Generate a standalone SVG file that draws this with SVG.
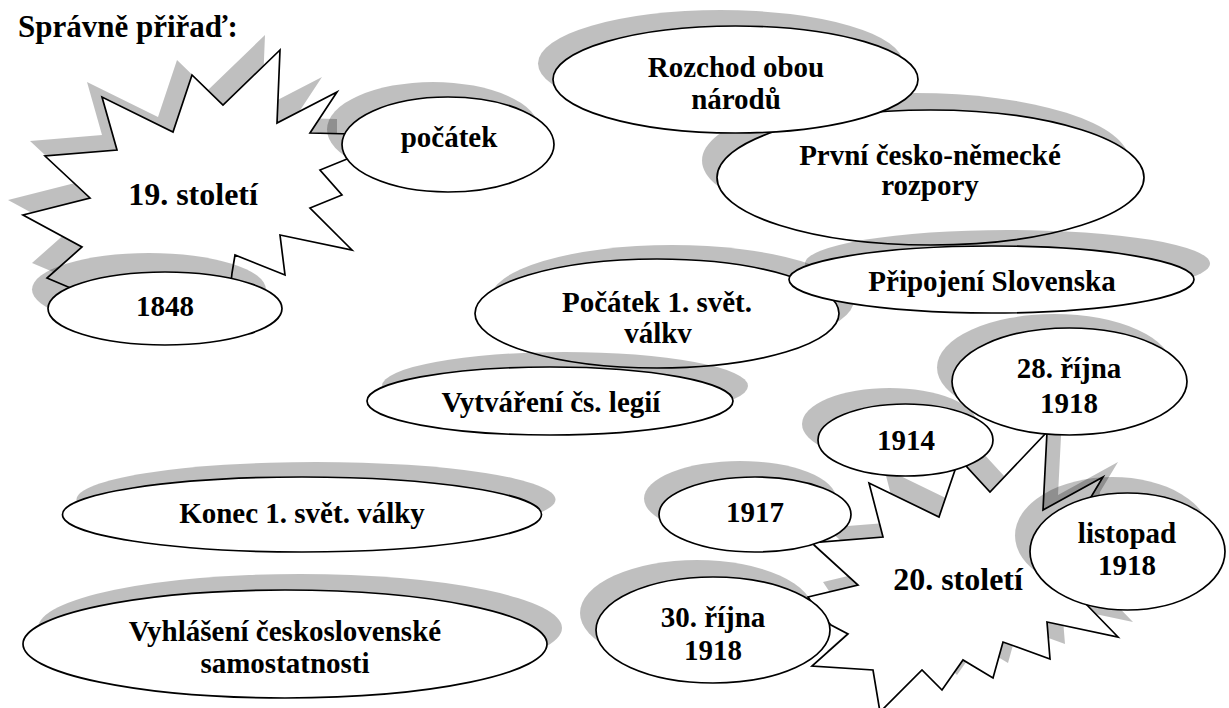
<svg xmlns="http://www.w3.org/2000/svg" xmlns:xlink="http://www.w3.org/1999/xlink" width="1229" height="708" viewBox="0 0 1229 708" font-family="Liberation Serif, Times New Roman, serif">
<defs>
<style>
.sh{fill:#000;fill-opacity:0.25;stroke:none}
.nd{fill:#fff;stroke:#000;stroke-width:1.7;stroke-linejoin:miter}
text{font-family:'Liberation Serif','Times New Roman',Times,serif;font-weight:bold;fill:#000;text-anchor:middle}
.l{font-size:29px}
.b{font-size:32px}
.t{font-size:31px;text-anchor:start}
</style>
<polygon id="p19" points="280,50 277,123 337,92 310,133 352,134 352,157 320,170 342,195 310,208 352,250 280,235 285,275 235,255 232,273 230,292 80,292 47,278 82,247 23,215 90,198 45,156 117,150 102,97 173,132 192,75 223,105"/>
<polygon id="p20" points="955,470 960,445 967,467 990,492 1047,432 1043,510 1103,477 1085,507 1075,590 1085,603 1118,637 1047,622 1050,659 1003,642 993,678 963,660 942,690 922,670 880,712 873,670 812,666 848,634 831,625 820,615 808,597 858,585 814,545 812,530 820,542 883,537 869,483 939,517"/>
</defs>
<rect width="1229" height="708" fill="#fff"/>
<text class="t" x="18" y="37">Správně přiřaď:</text>

<g id="connectors"></g>

<g id="n-19stoleti">
<use xlink:href="#p19" href="#p19" class="sh" transform="translate(-15,-15)"/>
<use xlink:href="#p19" href="#p19" class="nd"/>
<text class="b" x="193" y="205">19. století</text>
</g>
<g id="n-pocatek">
<ellipse class="sh" cx="433" cy="129.5" rx="106" ry="47.5"/>
<ellipse class="nd" cx="448" cy="144.5" rx="106" ry="47.5"/>
<text class="l" x="449" y="147">počátek</text>
</g>
<g id="n-1848">
<ellipse class="sh" cx="149" cy="289.5" rx="117" ry="36.5"/>
<ellipse class="nd" cx="165" cy="308.5" rx="117" ry="36.5"/>
<text class="l" x="165" y="316">1848</text>
</g>
<g id="n-prvni">
<ellipse class="sh" cx="915.5" cy="160.5" rx="213.5" ry="67.5"/>
<ellipse class="nd" cx="930.5" cy="177.5" rx="213.5" ry="67.5"/>
<text class="l" x="930" y="165">První česko-německé</text>
<text class="l" x="930" y="195">rozpory</text>
</g>
<g id="n-rozchod">
<ellipse class="sh" cx="720.5" cy="63.5" rx="182.5" ry="53.5"/>
<ellipse class="nd" cx="735.5" cy="79.5" rx="182.5" ry="53.5"/>
<text class="l" x="736" y="77">Rozchod obou</text>
<text class="l" x="736" y="109">národů</text>
</g>
<g id="n-pocatek-valky">
<ellipse class="sh" cx="672" cy="299.5" rx="182" ry="54.5"/>
<ellipse class="nd" cx="657" cy="313.5" rx="182" ry="54.5"/>
<text class="l" x="657" y="312">Počátek 1. svět.</text>
<text class="l" x="658" y="343">válkv</text>
</g>
<g id="n-pripojeni">
<ellipse class="sh" cx="1007.5" cy="263.5" rx="202.5" ry="33.5"/>
<ellipse class="nd" cx="991.5" cy="279.5" rx="202.5" ry="33.5"/>
<text class="l" x="992" y="291">Připojení Slovenska</text>
</g>
<g id="n-vytvareni">
<ellipse class="sh" cx="565" cy="386" rx="183" ry="34"/>
<ellipse class="nd" cx="550" cy="401" rx="183" ry="34"/>
<text class="l" x="551" y="412">Vytváření čs. legií</text>
</g>
<g id="n-konec">
<ellipse class="sh" cx="316" cy="499.5" rx="239.5" ry="37.5"/>
<ellipse class="nd" cx="302" cy="514.5" rx="239.5" ry="37.5"/>
<text class="l" x="302" y="523">Konec 1. svět. války</text>
</g>
<g id="n-vyhlaseni">
<ellipse class="sh" cx="300" cy="628" rx="262" ry="54"/>
<ellipse class="nd" cx="285" cy="644" rx="262" ry="54"/>
<text class="l" x="285" y="641">Vyhlášení československé</text>
<text class="l" x="285" y="673">samostatnosti</text>
</g>
<g id="n-20stoleti">
<use xlink:href="#p20" href="#p20" class="sh" transform="translate(15,-15)"/>
<use xlink:href="#p20" href="#p20" class="nd"/>
<text class="b" x="958" y="590">20. století</text>
</g>
<g id="n-1914">
<ellipse class="sh" cx="889.5" cy="424" rx="87.5" ry="36"/>
<ellipse class="nd" cx="905.5" cy="440" rx="87.5" ry="36"/>
<text class="l" x="906" y="450">1914</text>
</g>
<g id="n-28rijna">
<ellipse class="sh" cx="1054.5" cy="367.5" rx="117.5" ry="53.5"/>
<ellipse class="nd" cx="1069.5" cy="381.5" rx="117.5" ry="53.5"/>
<text class="l" x="1069" y="378">28. října</text>
<text class="l" x="1069" y="413">1918</text>
</g>
<g id="n-1917">
<ellipse class="sh" cx="740" cy="498.5" rx="96" ry="37.5"/>
<ellipse class="nd" cx="755" cy="514.5" rx="96" ry="37.5"/>
<text class="l" x="755" y="522">1917</text>
</g>
<g id="n-30rijna">
<ellipse class="sh" cx="697" cy="613" rx="117" ry="53"/>
<ellipse class="nd" cx="713" cy="630" rx="117" ry="53"/>
<text class="l" x="713" y="627">30. října</text>
<text class="l" x="713" y="660">1918</text>
</g>
<g id="n-listopad">
<ellipse class="sh" cx="1112.5" cy="535.5" rx="97.5" ry="58.5"/>
<ellipse class="nd" cx="1127.5" cy="551.5" rx="97.5" ry="58.5"/>
<text class="l" x="1127" y="543">listopad</text>
<text class="l" x="1127" y="575">1918</text>
</g>
</svg>
